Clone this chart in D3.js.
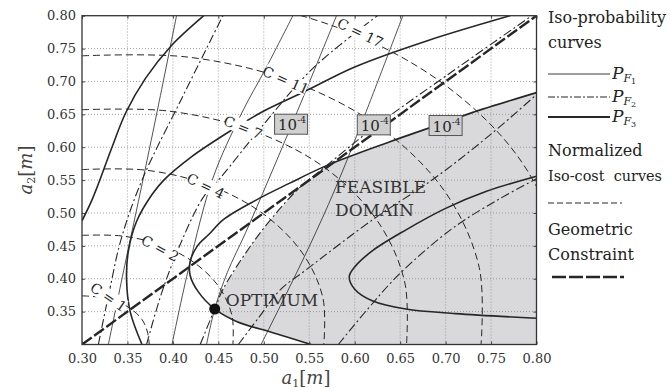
<!DOCTYPE html>
<html>
<head>
<meta charset="utf-8">
<script src="https://d3js.org/d3.v7.min.js"></script>
<style>
  body { margin: 0; background: #fff; }
  svg { font-family: "DejaVu Serif", serif; }
  .pre { white-space: pre; }
</style>
</head>
<body>
<script>
// normalized iso-cost curves (dashed)
const costLevels = [1, 2, 4, 7, 11, 17];
const costCurves = [
  [[0.30,0.374],[0.319,0.372],[0.338,0.366],[0.354,0.354],[0.366,0.338],[0.372,0.319],[0.374,0.30]],
  [[0.30,0.466],[0.344,0.465],[0.387,0.451],[0.424,0.424],[0.451,0.387],[0.465,0.344],[0.466,0.30]],
  [[0.30,0.566],[0.371,0.565],[0.440,0.542],[0.499,0.499],[0.542,0.440],[0.565,0.371],[0.566,0.30]],
  [[0.30,0.657],[0.395,0.655],[0.488,0.625],[0.568,0.568],[0.625,0.488],[0.655,0.395],[0.657,0.30]],
  [[0.30,0.739],[0.417,0.737],[0.531,0.700],[0.629,0.629],[0.700,0.531],[0.737,0.417],[0.739,0.30]],
  [[0.30,0.830],[0.441,0.827],[0.579,0.783],[0.697,0.697],[0.783,0.579],[0.827,0.441],[0.830,0.30]]
];

const xTicks = [0.30, 0.35, 0.40, 0.45, 0.50, 0.55, 0.60, 0.65, 0.70, 0.75, 0.80];
const yTicks = [0.35, 0.40, 0.45, 0.50, 0.55, 0.60, 0.65, 0.70, 0.75, 0.80];

// P_F1 iso-probability (thin solid)
const pf1Curves = [
  [[0.329,0.30],[0.347,0.42],[0.367,0.55],[0.385,0.67],[0.404,0.80]],
  [[0.399,0.30],[0.418,0.42],[0.444,0.553],[0.475,0.65],[0.503,0.722],[0.532,0.80]],
  [[0.437,0.30],[0.446,0.354],[0.46,0.41],[0.48,0.47],[0.505,0.55],[0.531,0.635],[0.557,0.722],[0.58,0.80]],
  [[0.497,0.30],[0.524,0.375],[0.551,0.452],[0.578,0.535],[0.61,0.645],[0.653,0.80]]
];

// P_F2 iso-probability (dash-dot)
const pf2Curves = [
  [[0.318,0.30],[0.33,0.38],[0.343,0.46],[0.366,0.55],[0.41,0.675],[0.455,0.80]],
  [[0.371,0.30],[0.388,0.38],[0.408,0.452],[0.433,0.523],[0.452,0.553],[0.50,0.635],[0.554,0.72],[0.625,0.80]],
  [[0.43,0.30],[0.446,0.354],[0.4555,0.385],[0.485,0.449],[0.51,0.494],[0.539,0.538],[0.569,0.572],[0.621,0.63],[0.70,0.708],[0.80,0.805]],
  [[0.472,0.30],[0.495,0.342],[0.518,0.383],[0.546,0.413],[0.62,0.49],[0.69,0.555],[0.75,0.62],[0.80,0.68]],
  [[0.582,0.30],[0.615,0.355],[0.649,0.407],[0.708,0.477],[0.76,0.522],[0.80,0.552]]
];

// P_F3 iso-probability (medium solid)
const pf3Curves = [
  [[0.30,0.488],[0.311,0.52],[0.319,0.548],[0.333,0.60],[0.348,0.652],[0.37,0.705],[0.398,0.754],[0.434,0.80]],
  [[0.366,0.30],[0.353,0.35],[0.349,0.40],[0.351,0.442],[0.36,0.487],[0.377,0.528],[0.39,0.55],[0.42,0.585],[0.46,0.622],[0.50,0.655],[0.544,0.684],[0.60,0.722],[0.68,0.762],[0.771,0.80]],
  [[0.552,0.30],[0.51,0.318],[0.47,0.335],[0.446,0.354],[0.428,0.38],[0.419,0.405],[0.419,0.426],[0.427,0.45],[0.44,0.468],[0.4555,0.49],[0.492,0.52],[0.528,0.545],[0.569,0.572],[0.638,0.608],[0.70,0.638],[0.73,0.653],[0.80,0.683]],
  [[0.80,0.556],[0.745,0.533],[0.70,0.507],[0.656,0.474],[0.62,0.443],[0.60,0.418],[0.594,0.403],[0.60,0.384],[0.62,0.366],[0.656,0.354],[0.711,0.347],[0.80,0.340]]
];

// geometric constraint a2 = a1
const constraint = [[0.30,0.30],[0.80,0.80]];

const feasible = [[0.446,0.354],[0.4555,0.385],[0.485,0.449],[0.51,0.494],[0.539,0.538],[0.569,0.572],
  [0.638,0.608],[0.70,0.638],[0.73,0.653],[0.80,0.683],[0.80,0.30],[0.552,0.30],[0.51,0.318],[0.47,0.335]];

const optimum = [0.446, 0.354];

const width = 670, height = 391;
const svg = d3.select("body").append("svg")
  .attr("width", width)
  .attr("height", height);

const x = d3.scaleLinear().domain([0.30, 0.80]).range([82, 536.5]);
const y = d3.scaleLinear().domain([0.30, 0.80]).range([344.5, 15.7]);
const ink = "#262626";

svg.append("clipPath").attr("id", "plot")
  .append("rect")
  .attr("x", x(0.30)).attr("y", y(0.80))
  .attr("width", x(0.80) - x(0.30)).attr("height", y(0.30) - y(0.80));

const plot = svg.append("g").attr("clip-path", "url(#plot)");
const line = d3.line().x(d => x(d[0])).y(d => y(d[1]));
const smooth = d3.line().x(d => x(d[0])).y(d => y(d[1])).curve(d3.curveCatmullRom.alpha(0.5));

// feasible domain
plot.append("path")
  .attr("d", line(feasible) + "Z")
  .attr("fill", "#d9d9db");

// dotted grid
plot.selectAll(".gx").data(xTicks.slice(1, -1)).enter().append("line")
  .attr("x1", d => x(d)).attr("x2", d => x(d))
  .attr("y1", y(0.30)).attr("y2", y(0.80))
  .attr("stroke", "#8a8a8a").attr("stroke-width", 0.8).attr("stroke-dasharray", "1,2");
plot.selectAll(".gy").data(yTicks.slice(0, -1)).enter().append("line")
  .attr("x1", x(0.30)).attr("x2", x(0.80))
  .attr("y1", d => y(d)).attr("y2", d => y(d))
  .attr("stroke", "#8a8a8a").attr("stroke-width", 0.8).attr("stroke-dasharray", "1,2");

plot.selectAll(".cost").data(costCurves).enter().append("path")
  .attr("d", smooth).attr("fill", "none")
  .attr("stroke", ink).attr("stroke-width", 1)
  .attr("stroke-dasharray", "7,4");

plot.selectAll(".pf1").data(pf1Curves).enter().append("path")
  .attr("d", smooth).attr("fill", "none")
  .attr("stroke", ink).attr("stroke-width", 0.8);

plot.selectAll(".pf2").data(pf2Curves).enter().append("path")
  .attr("d", smooth).attr("fill", "none")
  .attr("stroke", ink).attr("stroke-width", 1.1)
  .attr("stroke-dasharray", "9,3,2,3");

plot.selectAll(".pf3").data(pf3Curves).enter().append("path")
  .attr("d", smooth).attr("fill", "none")
  .attr("stroke", ink).attr("stroke-width", 1.6);

plot.append("path")
  .attr("d", line(constraint)).attr("fill", "none")
  .attr("stroke", ink).attr("stroke-width", 2.4)
  .attr("stroke-dasharray", "12,3");

// cost labels sitting on the curves: [a1, a2, rotation]
const costLabelPos = [[0.329,0.372,34], [0.386,0.446,28], [0.436,0.541,26], [0.477,0.630,22], [0.524,0.702,24], [0.606,0.774,26]];
costLevels.forEach((c, i) => {
  const p = costLabelPos[i];
  const g = plot.append("g")
    .attr("transform", "translate(" + x(p[0]) + "," + y(p[1]) + ") rotate(" + p[2] + ")");
  const txt = "C = " + c;
  const w = txt.length * 7.6;
  g.append("rect").attr("x", -w / 2).attr("y", -8).attr("width", w).attr("height", 15).attr("fill", "#fff");
  g.append("text").attr("class", "pre").attr("text-anchor", "middle").attr("dy", "0.35em")
    .attr("font-size", 14).attr("fill", ink).text(txt);
});

// 10^-4 boxes
const probLabelAt = [[0.53, 0.635], [0.621, 0.634], [0.70, 0.633]];
probLabelAt.forEach(p => {
  const g = svg.append("g").attr("transform", "translate(" + x(p[0]) + "," + y(p[1]) + ")");
  g.append("rect").attr("x", -16.5).attr("y", -10).attr("width", 33).attr("height", 20)
    .attr("fill", "#d0d0d0").attr("stroke", "#555").attr("stroke-width", 1);
  const t = g.append("text").attr("x", -13).attr("y", 6).attr("font-size", 15).attr("fill", ink);
  t.append("tspan").text("10");
  t.append("tspan").attr("dy", -7).attr("font-size", 9).text("-4");
});

// optimum
svg.append("circle")
  .attr("cx", x(optimum[0])).attr("cy", y(optimum[1])).attr("r", 5.5)
  .attr("fill", "#111");
svg.append("text").attr("x", x(optimum[0]) + 11).attr("y", y(optimum[1]) - 3)
  .attr("font-size", 17).attr("fill", "#333").text("OPTIMUM");
svg.append("text").attr("x", 335).attr("y", 193).attr("font-size", 17).attr("fill", "#333").text("FEASIBLE");
svg.append("text").attr("x", 335).attr("y", 216).attr("font-size", 17).attr("fill", "#333").text("DOMAIN");

// axes
svg.append("g").attr("transform", "translate(0," + y(0.30) + ")")
  .call(d3.axisBottom(x).tickValues(xTicks).tickFormat(d3.format(".2f")).tickSizeInner(-3).tickSizeOuter(0).tickPadding(9));
svg.append("g").attr("transform", "translate(" + x(0.30) + ",0)")
  .call(d3.axisLeft(y).tickValues(yTicks).tickFormat(d3.format(".2f")).tickSizeInner(-3).tickSizeOuter(0).tickPadding(6));
svg.append("g").attr("transform", "translate(0," + y(0.80) + ")")
  .call(d3.axisTop(x).tickValues(xTicks).tickFormat("").tickSizeInner(-3).tickSizeOuter(0));
svg.append("g").attr("transform", "translate(" + x(0.80) + ",0)")
  .call(d3.axisRight(y).tickValues(yTicks).tickFormat("").tickSizeInner(-3).tickSizeOuter(0));
svg.selectAll(".domain").remove();
svg.selectAll(".tick line").attr("stroke", "#444");
svg.selectAll(".tick text").attr("font-family", "DejaVu Serif").attr("font-size", 13).attr("fill", "#333");

svg.append("rect")
  .attr("x", x(0.30)).attr("y", y(0.80))
  .attr("width", x(0.80) - x(0.30)).attr("height", y(0.30) - y(0.80))
  .attr("fill", "none").attr("stroke", "#333").attr("stroke-width", 1.3);

// axis titles
const a1 = svg.append("text").attr("x", 306).attr("y", 384).attr("text-anchor", "middle")
  .attr("font-size", 18).attr("fill", "#444");
a1.append("tspan").attr("font-style", "italic").text("a");
a1.append("tspan").attr("font-size", 11).attr("dy", 3).text("1");
a1.append("tspan").attr("dy", -3).text("[");
a1.append("tspan").attr("font-style", "italic").text("m");
a1.append("tspan").text("]");

const a2 = svg.append("text").attr("transform", "translate(32,170) rotate(-90)").attr("text-anchor", "middle")
  .attr("font-size", 18).attr("fill", "#444");
a2.append("tspan").attr("font-style", "italic").text("a");
a2.append("tspan").attr("font-size", 11).attr("dy", 3).text("2");
a2.append("tspan").attr("dy", -3).text("[");
a2.append("tspan").attr("font-style", "italic").text("m");
a2.append("tspan").text("]");

// legend
const lg = svg.append("g").attr("fill", "#222").attr("font-size", 16);
[["Iso-probability", 23], ["curves", 48], ["Normalized", 156], ["Iso-cost  curves", 181], ["Geometric", 235], ["Constraint", 260]]
  .forEach(d => {
    const t = lg.append("text").attr("class", "pre").attr("x", 548).attr("y", d[1]).text(d[0]);
    if (d[0].length > 15) t.attr("font-size", 15).attr("textLength", 114).attr("lengthAdjust", "spacingAndGlyphs");
  });

const legendLines = [
  {y: 74, w: 0.9, dash: null, sub: "1"},
  {y: 97, w: 1.1, dash: "7,2,2,2", sub: "2"},
  {y: 117, w: 2, dash: null, sub: "3"}
];
legendLines.forEach(d => {
  lg.append("line").attr("x1", 548).attr("x2", 610).attr("y1", d.y).attr("y2", d.y)
    .attr("stroke", ink).attr("stroke-width", d.w).attr("stroke-dasharray", d.dash);
  const t = lg.append("text").attr("x", 612).attr("y", d.y + 5).attr("font-size", 17).attr("font-style", "italic");
  t.append("tspan").text("P");
  t.append("tspan").attr("font-size", 11).attr("dy", 3).text("F");
  t.append("tspan").attr("font-size", 8).attr("dy", 2).attr("font-style", "normal").text(d.sub);
});
lg.append("line").attr("x1", 548).attr("x2", 622).attr("y1", 203).attr("y2", 203)
  .attr("stroke", ink).attr("stroke-width", 1).attr("stroke-dasharray", "6,3");
lg.append("line").attr("x1", 552).attr("x2", 624).attr("y1", 277).attr("y2", 277)
  .attr("stroke", ink).attr("stroke-width", 2.6).attr("stroke-dasharray", "14,3");
</script>
</body>
</html>
